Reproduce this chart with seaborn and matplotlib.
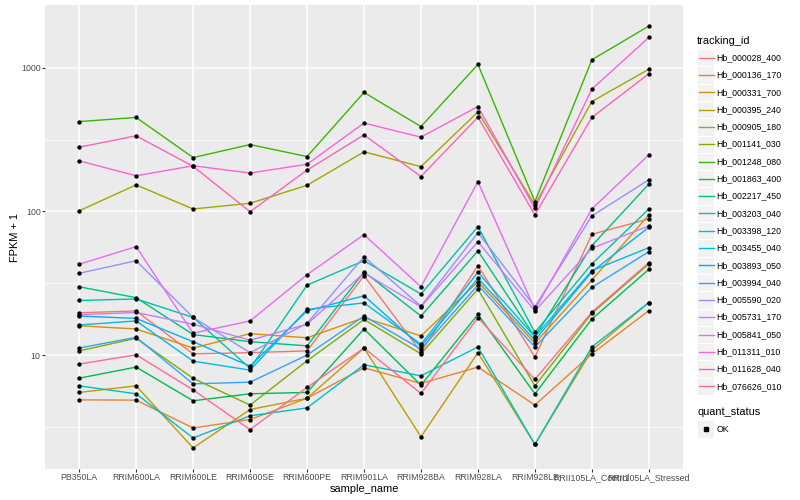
import numpy as np
import pandas as pd
import matplotlib
matplotlib.use("Agg")
import matplotlib.pyplot as plt
import seaborn as sns
from matplotlib.patches import Rectangle
from matplotlib.ticker import NullFormatter

# samples on the x axis, in plotting order
samples = ["PB350LA", "RRIM600LA", "RRIM600LE", "RRIM600SE", "RRIM600PE",
           "RRIM901LA", "RRIM928BA", "RRIM928LA", "RRIM928LE",
           "RRII105LA_Control", "RRII105LA_Stressed"]

tracking_ids = ["Hb_000028_400", "Hb_000136_170", "Hb_000331_700", "Hb_000395_240",
                "Hb_000905_180", "Hb_001141_030", "Hb_001248_080", "Hb_001863_400",
                "Hb_002217_450", "Hb_003203_040", "Hb_003398_120", "Hb_003455_040",
                "Hb_003893_050", "Hb_003994_040", "Hb_005590_020", "Hb_005731_170",
                "Hb_005841_050", "Hb_011311_010", "Hb_011628_040", "Hb_076626_010"]

# ggplot default hue palette for 20 levels
colors = ["#F8766D", "#EA8331", "#D89000", "#C09B00", "#A3A500", "#7CAE00", "#39B600",
          "#00BB4E", "#00BF7D", "#00C1A3", "#00BFC4", "#00BAE0", "#00B0F6", "#35A2FF",
          "#9590FF", "#C77CFF", "#E76BF3", "#FA62DB", "#FF62BC", "#FF6C91"]

# FPKM + 1 per sample
hb_000028_400 = [19.7, 20.3, 10.2, 10.4, 10.7, 35.7, 10.5, 41.9, 9.7, 69.3, 88.7]
hb_000136_170 = [4.88, 4.86, 3.11, 3.56, 5.01, 8.16, 6.35, 8.25, 4.49, 10.2, 20.4]
hb_000331_700 = [16.0, 15.2, 11.2, 14.1, 13.2, 18.2, 13.6, 32.4, 12.1, 33.3, 94.6]
hb_000395_240 = [5.50, 6.11, 2.26, 4.18, 5.01, 11.2, 2.70, 10.4, 2.39, 10.8, 23.2]
hb_000905_180 = [101, 153, 104, 114, 152, 260, 205, 493, 111, 582, 977]
hb_001141_030 = [10.7, 13.1, 6.89, 4.49, 9.13, 17.7, 10.2, 28.8, 6.11, 19.5, 43.1]
hb_001248_080 = [422, 451, 237, 292, 241, 673, 390, 1054, 117, 1137, 1950]
hb_001863_400 = [6.91, 8.25, 4.81, 5.38, 5.50, 15.2, 6.18, 19.2, 5.38, 17.8, 39.5]
hb_002217_450 = [29.9, 25.1, 13.9, 12.4, 11.6, 38.0, 18.7, 53.1, 13.4, 57.8, 155]
hb_003203_040 = [24.0, 24.6, 18.3, 8.08, 30.7, 45.4, 26.6, 78.4, 14.4, 43.1, 104]
hb_003398_120 = [6.11, 5.38, 2.65, 3.78, 4.29, 8.56, 7.17, 11.4, 2.39, 11.4, 23.2]
hb_003455_040 = [16.2, 17.3, 9.08, 7.86, 20.8, 23.1, 11.9, 37.7, 13.4, 38.7, 55.9]
hb_003893_050 = [18.7, 18.0, 12.4, 8.38, 20.3, 25.9, 11.5, 34.2, 12.7, 38.0, 77.6]
hb_003994_040 = [11.2, 13.3, 6.31, 6.48, 10.0, 18.7, 11.0, 30.7, 11.4, 29.6, 52.5]
hb_005590_020 = [37.1, 45.4, 18.3, 10.4, 16.6, 48.4, 21.9, 71.1, 21.7, 93.1, 166]
hb_005731_170 = [19.1, 19.8, 16.4, 12.7, 16.4, 37.3, 21.7, 61.6, 20.3, 55.4, 79.3]
hb_005841_050 = [42.9, 56.9, 14.2, 17.3, 36.3, 68.9, 29.9, 161, 20.8, 104, 248]
hb_011311_010 = [225, 177, 208, 185, 213, 412, 329, 537, 105, 710, 1626]
hb_011628_040 = [280, 336, 206, 99.6, 194, 341, 175, 453, 94.7, 451, 908]
hb_076626_010 = [8.66, 10.05, 5.73, 3.03, 5.96, 11.2, 5.41, 18.2, 6.77, 19.9, 44.0]

series = [hb_000028_400, hb_000136_170, hb_000331_700, hb_000395_240, hb_000905_180,
          hb_001141_030, hb_001248_080, hb_001863_400, hb_002217_450, hb_003203_040,
          hb_003398_120, hb_003455_040, hb_003893_050, hb_003994_040, hb_005590_020,
          hb_005731_170, hb_005841_050, hb_011311_010, hb_011628_040, hb_076626_010]

rows = []
for tid, vals in zip(tracking_ids, series):
    for s, v in zip(samples, vals):
        rows.append({"tracking_id": tid, "sample_name": s, "fpkm": v, "quant_status": "OK"})
df = pd.DataFrame(rows)

plt.rcParams["font.family"] = ["Liberation Sans", "DejaVu Sans"]

fig = plt.figure(figsize=(8, 5), dpi=100)
ax = fig.add_axes([45 / 800, 1 - 469 / 500, (683 - 45) / 800, (469 - 5) / 500])
ax.set_facecolor("#EBEBEB")

sns.lineplot(data=df, x="sample_name", y="fpkm", hue="tracking_id",
             hue_order=tracking_ids, palette=colors, estimator=None, sort=False,
             linewidth=1.0, legend=False, ax=ax, zorder=2)
sns.scatterplot(data=df, x="sample_name", y="fpkm", color="black", s=10,
                linewidth=0, legend=False, ax=ax, zorder=3)

ax.set_yscale("log")
lo, hi = np.log10(df["fpkm"].min()), np.log10(df["fpkm"].max())
pad = 0.05 * (hi - lo)
ax.set_ylim(10 ** (lo - pad), 10 ** (hi + pad))
ax.set_xlim(-0.6, len(samples) - 0.4)

ax.set_yticks([10, 100, 1000])
ax.set_yticklabels(["10", "100", "1000"])
ax.set_yticks([10 ** 0.5, 10 ** 1.5, 10 ** 2.5], minor=True)
ax.yaxis.set_minor_formatter(NullFormatter())
ax.set_xticks(range(len(samples)))
ax.set_xticklabels(samples)

ax.grid(which="major", color="white", linewidth=1.1)
ax.grid(which="minor", axis="y", color="white", linewidth=0.5)
ax.set_axisbelow(True)
for sp in ax.spines.values():
    sp.set_visible(False)
ax.tick_params(which="major", length=2.0, width=0.8, color="#333333",
               labelsize=6.3, labelcolor="#4D4D4D", pad=1.2)
ax.tick_params(which="minor", length=0)

ax.set_xlabel("sample_name", fontsize=7.9, labelpad=1)
ax.set_ylabel("FPKM + 1", fontsize=7.9, labelpad=1)

# legend, drawn in pixel space like ggplot's guide boxes
leg = fig.add_axes([0, 0, 1, 1], zorder=5)
leg.set_xlim(0, 800)
leg.set_ylim(500, 0)
leg.axis("off")
key = 17.3
leg.text(697, 41, "tracking_id", fontsize=7.9, va="center", ha="left")
for i, (tid, c) in enumerate(zip(tracking_ids, colors)):
    yc = 57.7 + i * key
    leg.add_patch(Rectangle((697, yc - key / 2), key, key, facecolor="#F2F2F2",
                            edgecolor="white", linewidth=0.8))
    leg.plot([698.5, 714], [yc, yc], color=c, linewidth=1.0)
    leg.text(716.5, yc, tid, fontsize=6.3, va="center", ha="left")

leg.text(697, 412, "quant_status", fontsize=7.9, va="center", ha="left")
leg.add_patch(Rectangle((697, 429 - key / 2), key, key, facecolor="#F2F2F2",
                        edgecolor="white", linewidth=0.8))
leg.plot([705.6], [429], marker="s", color="black", markersize=2.6)
leg.text(716.5, 429, "OK", fontsize=6.3, va="center", ha="left")

fig.savefig("out.png", dpi=100)
